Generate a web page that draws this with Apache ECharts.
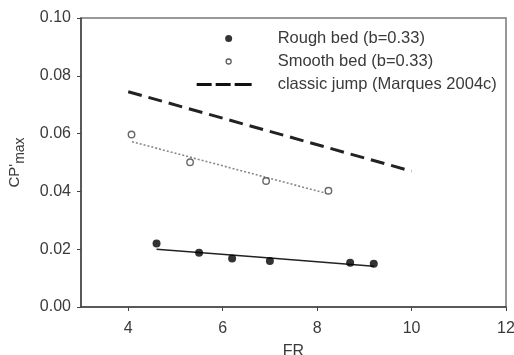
<!DOCTYPE html>
<html>
<head>
<meta charset="utf-8">
<script src="https://cdn.jsdelivr.net/npm/echarts@6/dist/echarts.min.js"></script>
<style>
html,body{margin:0;padding:0;background:#fff;}
#c{width:514px;height:355px;}
</style>
</head>
<body>
<div id="c"></div>
<script>
// ---- data ----
var roughFR = [4.6, 5.5, 6.2, 7.0, 8.7, 9.2];
var roughCP = [0.0220, 0.0188, 0.0168, 0.0159, 0.0153, 0.0150];
var smoothFR = [4.07, 5.31, 6.92, 8.24];
var smoothCP = [0.0597, 0.0501, 0.0436, 0.0402];
var roughFitFR = [4.6, 6.8, 9.2];
var roughFitCP = [0.0200, 0.0172, 0.0141];
var smoothFitFR = [4.08, 8.2];
var smoothFitCP = [0.0572, 0.0393];
var classicFR = [4.0, 10.0];
var classicCP = [0.0745, 0.0470];
var xTicks = [4, 6, 8, 10, 12];
var yTicks = [0.00, 0.02, 0.04, 0.06, 0.08, 0.10];
var seriesNames = ['Rough bed (b=0.33)', 'Smooth bed (b=0.33)', 'classic jump (Marques 2004c)'];

function pairs(xs, ys) { return xs.map(function (x, i) { return [x, ys[i]]; }); }

var chart = echarts.init(document.getElementById('c'));
var axisCol = '#444';
var txtCol = '#3a3a3a';
var ff = 'Liberation Sans, Arial';
chart.setOption({
  animation: false,
  backgroundColor: '#fff',
  grid: { left: 81, right: 8, top: 18, bottom: 48, outerBoundsMode: 'none', containLabel: false,
    show: true, borderColor: '#777', borderWidth: 1.5, backgroundColor: 'transparent' },
  legend: {
    orient: 'vertical', left: 196, top: 30, padding: 0,
    itemWidth: 76, itemHeight: 14, itemGap: 6,
    textStyle: { fontFamily: ff, fontSize: 16.5, color: txtCol },
    data: [
      { name: seriesNames[0], icon: 'path://M0 0 M76 14 M35.5 7 A3.5 3.5 0 1 1 28.5 7 A3.5 3.5 0 1 1 35.5 7 Z',
        itemStyle: { color: '#000', borderWidth: 0 } },
      { name: seriesNames[1], icon: 'path://M0 0 M76 14 M34.5 7 A2.5 2.5 0 1 1 29.5 7 A2.5 2.5 0 1 1 34.5 7 Z',
        itemStyle: { color: '#fff', borderColor: '#333', borderWidth: 1.3 } },
      { name: seriesNames[2], icon: 'path://M0 0 M76 14 M0 5.5 h15 v3 h-15 Z M19 5.5 h15 v3 h-15 Z M38 5.5 h17 v3 h-17 Z',
        itemStyle: { color: '#111', borderWidth: 0 } }
    ]
  },
  xAxis: {
    type: 'value', min: 3, max: 12, interval: 1,
    name: 'FR', nameLocation: 'middle', nameGap: 37,
    nameTextStyle: { fontFamily: ff, fontSize: 16, color: txtCol },
    axisLine: { show: true, onZero: false, lineStyle: { color: axisCol, width: 1.5 } },
    axisTick: { show: true, length: 4, inside: false, customValues: xTicks, lineStyle: { color: axisCol } },
    axisLabel: { customValues: xTicks, margin: 14, fontFamily: ff, fontSize: 16, color: txtCol },
    splitLine: { show: false }
  },
  yAxis: {
    type: 'value', min: 0, max: 0.1, interval: 0.02,
    name: "{a|CP'}{b|max}", nameLocation: 'middle', nameGap: 54, nameRotate: 90,
    nameTextStyle: {
      fontFamily: ff, color: txtCol,
      rich: {
        a: { fontSize: 15, lineHeight: 20, verticalAlign: 'top', color: txtCol, fontFamily: ff },
        b: { fontSize: 14, lineHeight: 20, verticalAlign: 'bottom', color: txtCol, fontFamily: ff }
      }
    },
    axisLine: { show: true, lineStyle: { color: axisCol, width: 1.5 } },
    axisTick: { show: true, length: 4, inside: false, customValues: yTicks, lineStyle: { color: axisCol } },
    axisLabel: { customValues: yTicks, margin: 10, fontFamily: ff, fontSize: 16, color: txtCol,
      formatter: function (v) { return v.toFixed(2); } },
    splitLine: { show: false }
  },
  series: [
    { name: seriesNames[2], type: 'line', data: pairs(classicFR, classicCP), symbol: 'none', z: 2,
      lineStyle: { color: '#222', width: 3, type: [14, 7] }, itemStyle: { color: '#222' } },
    { name: 'roughFit', type: 'line', data: pairs(roughFitFR, roughFitCP), symbol: 'none', z: 2,
      lineStyle: { color: '#222', width: 1.5 } },
    { name: 'smoothFit', type: 'line', data: pairs(smoothFitFR, smoothFitCP), symbol: 'none', z: 2,
      lineStyle: { color: '#888', width: 1.6, type: [2, 2] } },
    { name: seriesNames[0], type: 'scatter', data: pairs(roughFR, roughCP), symbol: 'circle', symbolSize: 8, z: 3,
      itemStyle: { color: '#000' } },
    { name: seriesNames[1], type: 'scatter', data: pairs(smoothFR, smoothCP), symbol: 'circle', symbolSize: 6.5, z: 3,
      itemStyle: { color: '#fff', borderColor: '#444', borderWidth: 1.4 } }
  ]
});
</script>
</body>
</html>
